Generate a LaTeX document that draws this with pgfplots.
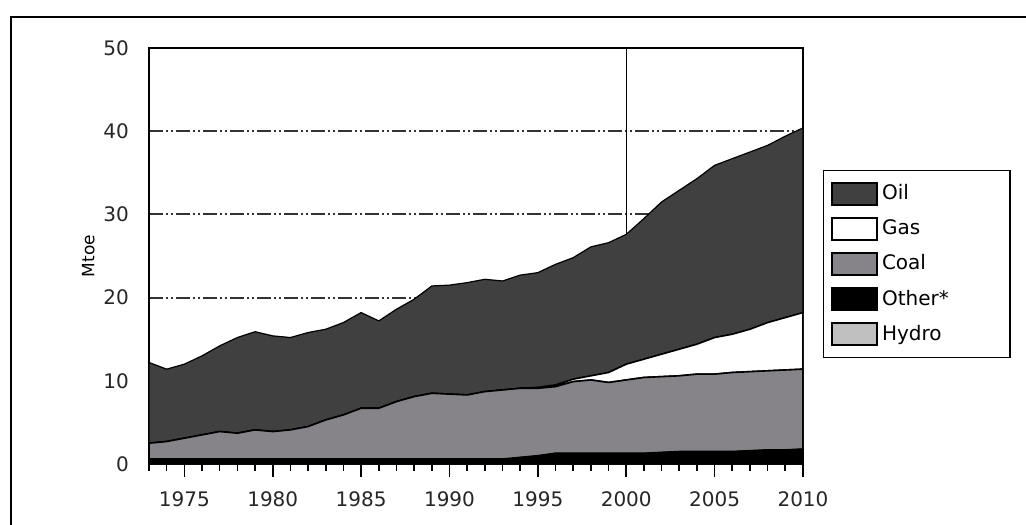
\documentclass[border=0pt]{standalone}
\usepackage{pgfplots}
\usepackage{pgfplotstable}
\pgfplotsset{compat=1.18}
\usepackage{fontspec}
\setmainfont{DejaVu Sans}
\definecolor{oilc}{RGB}{64,64,64}
\definecolor{coalc}{RGB}{134,132,136}
\definecolor{hydroc}{RGB}{192,192,192}
\pgfplotstableread{
year hydro other coal gas oil
1973 0 0.6 1.9 0.0 9.7
1974 0 0.6 2.1 0.0 8.7
1975 0 0.6 2.5 0.0 8.9
1976 0 0.6 2.9 0.0 9.5
1977 0 0.6 3.3 0.0 10.3
1978 0 0.6 3.1 0.0 11.5
1979 0 0.6 3.5 0.0 11.8
1980 0 0.6 3.3 0.0 11.5
1981 0 0.6 3.5 0.0 11.1
1982 0 0.6 3.9 0.0 11.3
1983 0 0.6 4.7 0.0 10.9
1984 0 0.6 5.3 0.0 11.1
1985 0 0.6 6.1 0.0 11.5
1986 0 0.6 6.1 0.0 10.5
1987 0 0.6 6.9 0.0 11.1
1988 0 0.6 7.5 0.0 11.7
1989 0 0.6 7.9 0.0 12.9
1990 0 0.6 7.8 0.0 13.1
1991 0 0.6 7.7 0.0 13.5
1992 0 0.6 8.1 0.0 13.5
1993 0 0.6 8.3 0.0 13.1
1994 0 0.8 8.3 0.0 13.6
1995 0 1.0 8.1 0.1 13.8
1996 0 1.3 8.0 0.2 14.5
1997 0 1.3 8.6 0.3 14.6
1998 0 1.3 8.8 0.5 15.5
1999 0 1.3 8.5 1.2 15.6
2000 0 1.3 8.8 1.9 15.6
2001 0 1.3 9.1 2.2 16.9
2002 0 1.4 9.1 2.7 18.3
2003 0 1.5 9.1 3.2 19.1
2004 0 1.5 9.3 3.6 19.9
2005 0 1.5 9.3 4.4 20.7
2006 0 1.5 9.5 4.6 21.1
2007 0 1.6 9.5 5.1 21.3
2008 0 1.7 9.5 5.8 21.3
2009 0 1.7 9.6 6.3 21.8
2010 0 1.8 9.6 6.8 22.2
}\energydata
\begin{document}
\begin{tikzpicture}
\useasboundingbox (0,0) rectangle (513pt,262pt);
\draw[line width=1pt] (5.5pt,-5pt) -- (5.5pt,253.5pt) -- (520pt,253.5pt);
\begin{axis}[
  at={(74.5pt,30pt)}, anchor=south west,
  scale only axis, width=327pt, height=208pt,
  xmin=1973, xmax=2010, ymin=0, ymax=50,
  stack plots=y,
  xtick={1975,1980,...,2010},
  minor xtick={1973,...,2010},
  ytick={0,10,...,50},
  xtick pos=bottom, ytick pos=left,
  tick align=outside,
  major tick length=6.5pt, minor tick length=3.3pt,
  ytick style={draw=none},
  xtick style={black, line width=0.8pt},
  axis line style={line width=0.8pt},
  ymajorgrids,
  major grid style={oilc!80!black, line width=1pt, dash pattern=on 7pt off 1.5pt on 1pt off 1.5pt on 1pt off 1.5pt},
  /pgf/number format/1000 sep={},
  /pgf/number format/assume math mode=true,
  tick label style={font=\fontsize{10}{12}\selectfont, text=black!85},
  xticklabel style={yshift=-4pt},
  ylabel={Mtoe},
  ylabel style={font=\fontsize{8.5}{10}\selectfont, at={(axis description cs:-0.093,0.5)}, anchor=center},
  legend style={at={(1.03,0.707)}, anchor=north west, draw=black, line width=0.8pt,
    font=\fontsize{10}{12}\selectfont, row sep=4.5pt, inner xsep=4pt, inner ysep=5pt,
    /tikz/every even column/.append style={text width=58pt}},
  legend image code/.code={\draw[#1, line width=0.8pt, draw=black] (0pt,-5.5pt) rectangle (22.5pt,5.5pt);},
  legend cell align=left,
  reverse legend,
]
\addplot[fill=hydroc, draw=black, line width=0.4pt] table[x=year, y=hydro] {\energydata} \closedcycle;
\addlegendentry{Hydro}
\addplot[fill=black, draw=black, line width=0.4pt] table[x=year, y=other] {\energydata} \closedcycle;
\addlegendentry{Other*}
\addplot[fill=coalc, draw=black, line width=0.8pt] table[x=year, y=coal] {\energydata} \closedcycle;
\addlegendentry{Coal}
\addplot[fill=white, draw=black, line width=0.8pt] table[x=year, y=gas] {\energydata} \closedcycle;
\addlegendentry{Gas}
\addplot[fill=oilc, draw=black, line width=0.6pt] table[x=year, y=oil] {\energydata} \closedcycle;
\addlegendentry{Oil}
\draw[black, line width=0.7pt] (axis cs:2000,0) -- (axis cs:2000,50);
\draw[black, line width=0.8pt] (rel axis cs:0,0) rectangle (rel axis cs:1,1);
\end{axis}
\end{tikzpicture}
\end{document}
